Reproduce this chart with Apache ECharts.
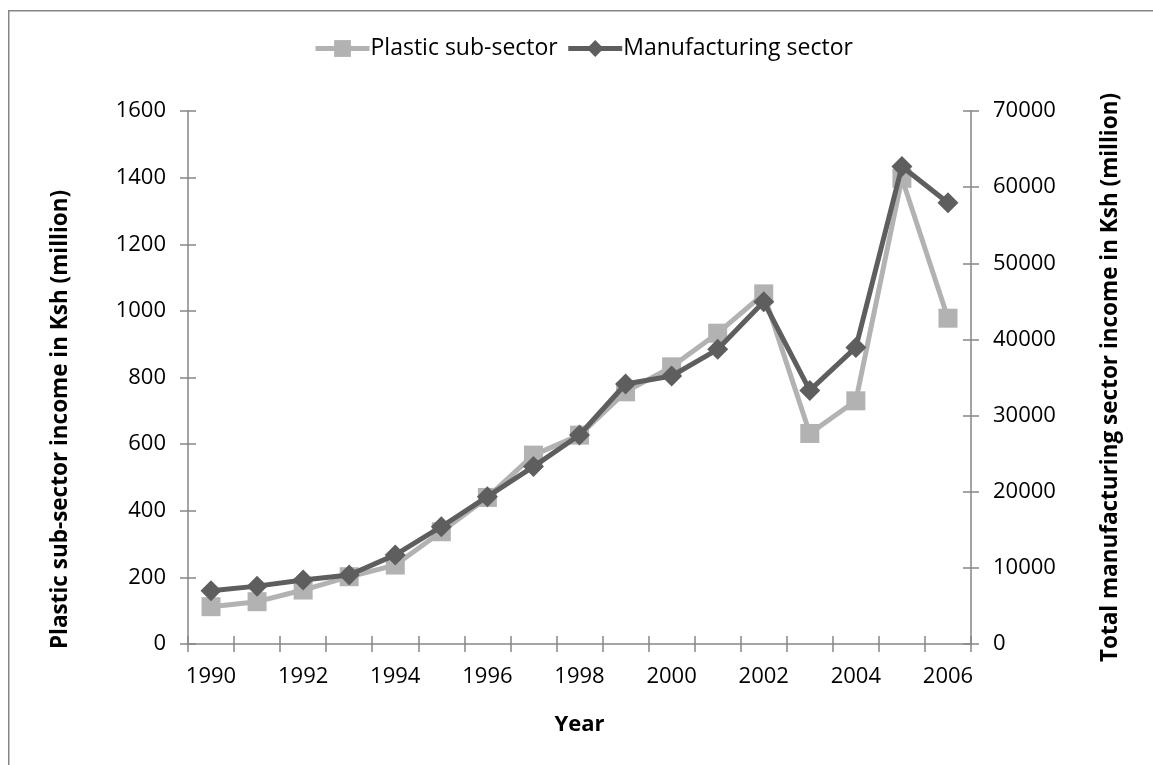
<!DOCTYPE html>
<html>
<head>
<meta charset="utf-8">
<script src="https://cdn.jsdelivr.net/npm/echarts@6/dist/echarts.min.js"></script>
<style>
  html, body { margin: 0; padding: 0; background: #fff; }
  #chart { width: 1153px; height: 765px; }
</style>
</head>
<body>
<div id="chart"></div>
<script>
// Years on the category axis
const years = ['1990','1991','1992','1993','1994','1995','1996','1997','1998',
               '1999','2000','2001','2002','2003','2004','2005','2006'];
// Plastic sub-sector income, Ksh million (left axis)
const plastic = [112, 127, 162, 202, 237, 337, 440, 567, 627, 757, 832, 933, 1051, 632, 730, 1398, 978];
// Total manufacturing sector income, Ksh million (right axis)
const manufacturing = [7000, 7600, 8400, 9060, 11700, 15400, 19350, 23300, 27450, 34150, 35200, 38700, 44950, 33300, 38950, 62700, 57950];

const FONT = 'Open Sans';
const AXIS_COLOR = '#868686';
const LIGHT = '#b2b2b2';
const DARK = '#5e5e5e';

const chart = echarts.init(document.getElementById('chart'));

// A value axis on one side; the "twin" copy only adds inward ticks so they cross the line
function valueAxis(pos, max, interval, name, nameGap, namePad, twin) {
  return {
    type: 'value', position: pos, min: 0, max: max, interval: interval,
    name: twin ? '' : name, nameLocation: 'middle', nameGap: nameGap, nameRotate: 90,
    nameTextStyle: { fontFamily: FONT, fontWeight: 'bold', fontSize: 22.5, color: '#000', padding: namePad },
    axisLine: { show: !twin, lineStyle: { color: AXIS_COLOR, width: 1.5 } },
    axisTick: { show: true, inside: !!twin, length: 8, lineStyle: { color: AXIS_COLOR, width: 1.5 } },
    axisLabel: { show: !twin, fontFamily: FONT, fontSize: 22, color: '#000', margin: 22,
                 formatter: v => String(v) },
    splitLine: { show: false }
  };
}

chart.setOption({
  animation: false,
  backgroundColor: '#fff',
  graphic: [{
    type: 'rect', left: 8, top: 10, z: -10,
    shape: { width: 1200, height: 800 },
    style: { fill: '#fff', stroke: '#868686', lineWidth: 1.5 }
  }],
  legend: {
    top: 32, left: 308, itemWidth: 54, itemHeight: 21, itemGap: 8,
    lineStyle: { width: 5 },
    textStyle: { fontFamily: FONT, fontSize: 23, color: '#000', padding: [0, 0, 0, -4] },
    data: ['Plastic sub-sector', 'Manufacturing sector']
  },
  grid: { left: 188, right: 182, top: 111, bottom: 121, containLabel: false },
  xAxis: [{
    type: 'category', data: years, boundaryGap: true, position: 'bottom',
    name: 'Year', nameLocation: 'middle', nameGap: 70,
    nameTextStyle: { fontFamily: FONT, fontWeight: 'bold', fontSize: 22, color: '#000' },
    axisLine: { lineStyle: { color: AXIS_COLOR, width: 1.5 } },
    axisTick: { show: true, interval: 0, alignWithLabel: false, length: 8, lineStyle: { color: AXIS_COLOR, width: 1.5 } },
    axisLabel: { interval: 1, fontFamily: FONT, fontSize: 22, color: '#000', margin: 22 }
  }, {
    type: 'category', data: years, boundaryGap: true, position: 'bottom',
    axisLine: { show: false },
    axisTick: { show: true, inside: true, interval: 0, length: 8, lineStyle: { color: AXIS_COLOR, width: 1.5 } },
    axisLabel: { show: false }
  }],
  yAxis: [
    valueAxis('left', 1600, 200, 'Plastic sub-sector income in Ksh (million)', 116, [0, 84, 0, 0], false),
    valueAxis('right', 70000, 10000, 'Total manufacturing sector income in Ksh (million)', 128, [0, 0, 0, 0], false),
    valueAxis('left', 1600, 200, '', 0, 0, true),
    valueAxis('right', 70000, 10000, '', 0, 0, true)
  ],
  series: [{
    name: 'Plastic sub-sector', type: 'line', data: plastic,
    xAxisIndex: 0, yAxisIndex: 0, z: 2,
    symbol: 'rect', symbolSize: 19,
    lineStyle: { color: LIGHT, width: 5 },
    itemStyle: { color: LIGHT }
  }, {
    name: 'Manufacturing sector', type: 'line', data: manufacturing,
    xAxisIndex: 0, yAxisIndex: 1, z: 3,
    symbol: 'diamond', symbolSize: [21, 21],
    lineStyle: { color: DARK, width: 5 },
    itemStyle: { color: DARK }
  }]
});
</script>
</body>
</html>
